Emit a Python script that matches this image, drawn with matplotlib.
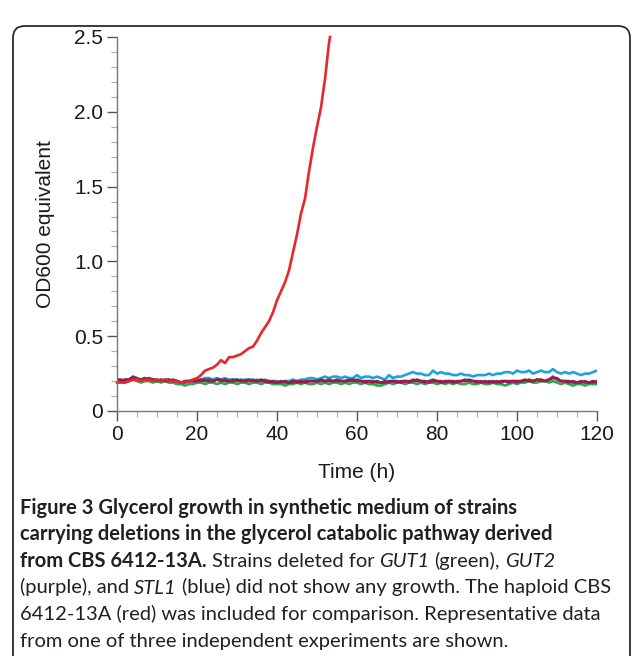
import matplotlib
matplotlib.use("Agg")
import matplotlib.pyplot as plt
from matplotlib.patches import FancyBboxPatch
from matplotlib.transforms import IdentityTransform
from matplotlib.ticker import MultipleLocator, FixedLocator, FixedFormatter

# Time axis (h), one reading per hour
time_h = list(range(121))

stl1_blue = [
    0.21, 0.20, 0.21, 0.21, 0.22, 0.21, 0.21, 0.22, 0.21, 0.21,
    0.20, 0.21, 0.20, 0.21, 0.20, 0.20, 0.19, 0.20, 0.20, 0.20,
    0.21, 0.21, 0.22, 0.22, 0.21, 0.22, 0.21, 0.22, 0.21, 0.21,
    0.21, 0.20, 0.21, 0.21, 0.20, 0.21, 0.20, 0.21, 0.20, 0.20,
    0.20, 0.19, 0.20, 0.20, 0.21, 0.20, 0.21, 0.21, 0.22, 0.22,
    0.21, 0.22, 0.23, 0.22, 0.23, 0.23, 0.22, 0.23, 0.22, 0.22,
    0.24, 0.22, 0.23, 0.23, 0.22, 0.23, 0.22, 0.21, 0.24, 0.22,
    0.23, 0.23, 0.24, 0.25, 0.26, 0.25, 0.25, 0.24, 0.24, 0.27,
    0.25, 0.26, 0.25, 0.25, 0.24, 0.24, 0.25, 0.24, 0.24, 0.23,
    0.24, 0.24, 0.24, 0.25, 0.24, 0.25, 0.25, 0.26, 0.26, 0.25,
    0.27, 0.26, 0.26, 0.27, 0.25, 0.26, 0.27, 0.26, 0.26, 0.28,
    0.26, 0.25, 0.26, 0.25, 0.26, 0.25, 0.24, 0.25, 0.25, 0.26,
    0.27,
]

gut1_green = [
    0.20, 0.20, 0.19, 0.20, 0.21, 0.20, 0.19, 0.20, 0.20, 0.19,
    0.20, 0.19, 0.20, 0.19, 0.19, 0.18, 0.18, 0.17, 0.18, 0.18,
    0.19, 0.19, 0.18, 0.19, 0.19, 0.18, 0.19, 0.18, 0.19, 0.19,
    0.18, 0.19, 0.19, 0.18, 0.19, 0.19, 0.18, 0.19, 0.19, 0.18,
    0.18, 0.18, 0.17, 0.18, 0.18, 0.19, 0.18, 0.19, 0.18, 0.18,
    0.19, 0.18, 0.19, 0.18, 0.19, 0.19, 0.18, 0.19, 0.18, 0.19,
    0.19, 0.18, 0.19, 0.18, 0.18, 0.17, 0.17, 0.18, 0.19, 0.18,
    0.19, 0.19, 0.18, 0.19, 0.19, 0.18, 0.19, 0.18, 0.19, 0.19,
    0.18, 0.19, 0.18, 0.19, 0.18, 0.19, 0.18, 0.18, 0.19, 0.18,
    0.18, 0.19, 0.18, 0.18, 0.19, 0.18, 0.18, 0.17, 0.18, 0.19,
    0.18, 0.19, 0.19, 0.20, 0.19, 0.19, 0.20, 0.20, 0.19, 0.20,
    0.19, 0.18, 0.19, 0.18, 0.17, 0.18, 0.18, 0.17, 0.18, 0.18,
    0.18,
]

gut2_purple = [
    0.21, 0.20, 0.21, 0.21, 0.23, 0.22, 0.21, 0.21, 0.22, 0.21,
    0.21, 0.20, 0.21, 0.21, 0.20, 0.20, 0.19, 0.20, 0.20, 0.20,
    0.20, 0.21, 0.20, 0.21, 0.20, 0.21, 0.21, 0.20, 0.20, 0.21,
    0.20, 0.21, 0.20, 0.20, 0.21, 0.20, 0.20, 0.20, 0.20, 0.19,
    0.19, 0.19, 0.20, 0.19, 0.19, 0.20, 0.19, 0.20, 0.20, 0.20,
    0.20, 0.20, 0.20, 0.21, 0.20, 0.20, 0.20, 0.20, 0.21, 0.20,
    0.21, 0.20, 0.20, 0.20, 0.20, 0.19, 0.19, 0.20, 0.19, 0.20,
    0.19, 0.20, 0.20, 0.19, 0.21, 0.20, 0.20, 0.19, 0.20, 0.21,
    0.20, 0.20, 0.19, 0.20, 0.20, 0.19, 0.20, 0.21, 0.20, 0.20,
    0.19, 0.20, 0.19, 0.20, 0.19, 0.20, 0.19, 0.20, 0.20, 0.20,
    0.19, 0.20, 0.20, 0.21, 0.20, 0.21, 0.20, 0.20, 0.21, 0.23,
    0.21, 0.20, 0.20, 0.19, 0.20, 0.19, 0.19, 0.20, 0.19, 0.19,
    0.20,
]

gut2_maroon = [
    0.21, 0.21, 0.20, 0.21, 0.22, 0.21, 0.21, 0.22, 0.21, 0.21,
    0.20, 0.21, 0.20, 0.20, 0.21, 0.20, 0.19, 0.19, 0.20, 0.20,
    0.20, 0.20, 0.21, 0.20, 0.20, 0.21, 0.20, 0.21, 0.20, 0.20,
    0.21, 0.20, 0.20, 0.21, 0.20, 0.20, 0.21, 0.20, 0.19, 0.20,
    0.19, 0.20, 0.19, 0.19, 0.20, 0.19, 0.20, 0.19, 0.20, 0.20,
    0.20, 0.21, 0.20, 0.20, 0.20, 0.21, 0.20, 0.20, 0.20, 0.21,
    0.20, 0.20, 0.19, 0.20, 0.19, 0.20, 0.19, 0.19, 0.20, 0.20,
    0.20, 0.19, 0.20, 0.20, 0.20, 0.21, 0.20, 0.20, 0.19, 0.20,
    0.20, 0.19, 0.20, 0.20, 0.19, 0.20, 0.20, 0.20, 0.21, 0.20,
    0.20, 0.19, 0.20, 0.19, 0.20, 0.19, 0.20, 0.20, 0.19, 0.20,
    0.20, 0.20, 0.21, 0.20, 0.20, 0.21, 0.21, 0.20, 0.21, 0.22,
    0.22, 0.20, 0.20, 0.20, 0.19, 0.19, 0.20, 0.19, 0.19, 0.20,
    0.19,
]

# CBS 6412-13A (red), only measured until it left the range
red_time = [
    0, 1, 2, 3, 4, 5, 6, 7, 8, 9,
    10, 11, 12, 13, 14, 15, 16, 17, 18, 19,
    20, 21, 22, 23, 24, 25, 26, 27, 28, 29,
    30, 31, 32, 33, 34, 35, 36, 37, 38, 39,
    40, 41, 42, 43, 44, 45, 46, 47, 48, 49,
    50, 51, 52, 53, 53.25,
]
cbs_red = [
    0.19, 0.19, 0.19, 0.20, 0.21, 0.21, 0.20, 0.21, 0.21, 0.20,
    0.21, 0.20, 0.21, 0.20, 0.20, 0.20, 0.19, 0.19, 0.20, 0.21,
    0.22, 0.24, 0.27, 0.28, 0.29, 0.31, 0.34, 0.32, 0.36, 0.36,
    0.37, 0.38, 0.40, 0.42, 0.43, 0.47, 0.52, 0.56, 0.60, 0.66,
    0.74, 0.80, 0.86, 0.94, 1.06, 1.18, 1.32, 1.42, 1.60, 1.76,
    1.90, 2.03, 2.22, 2.46, 2.50,
]

x_ticks = [0, 20, 40, 60, 80, 100, 120]
y_ticks = [0, 0.5, 1.0, 1.5, 2.0, 2.5]
y_tick_labels = ["0", "0.5", "1.0", "1.5", "2.0", "2.5"]

W, H = 633, 656
fig = plt.figure(figsize=(W / 100, H / 100), dpi=100)

# rounded frame around the whole figure panel
frame = FancyBboxPatch((13, -40), 617, H - 13 + 40 - 13,
                       boxstyle="round,pad=0,rounding_size=12",
                       transform=IdentityTransform(),
                       facecolor="none", edgecolor="#2b2b2b", lw=1.3,
                       zorder=-5)
fig.add_artist(frame)

ax = fig.add_axes([117 / W, 1 - 411 / H, 480 / W, 374 / H])
ax.set_facecolor("none")

lw = 1.9
ax.plot(time_h, stl1_blue, color="#1ea3dc", lw=lw)
ax.plot(time_h, gut1_green, color="#2fa84f", lw=lw)
ax.plot(time_h, gut2_purple, color="#7b2d8e", lw=lw)
ax.plot(time_h, gut2_maroon, color="#9a1e3c", lw=lw)
ax.plot(red_time, cbs_red, color="#e8262b", lw=lw, clip_on=False)

ax.set_xlim(0, 120)
ax.set_ylim(0, 2.5)

for side in ["top", "right"]:
    ax.spines[side].set_visible(False)
for side in ["left", "bottom"]:
    ax.spines[side].set_color("#7a7a7a")
    ax.spines[side].set_linewidth(1.0)

tick_font = "Liberation Sans"
ax.xaxis.set_major_locator(FixedLocator(x_ticks))
ax.xaxis.set_minor_locator(MultipleLocator(5))
ax.yaxis.set_major_locator(FixedLocator(y_ticks))
ax.yaxis.set_major_formatter(FixedFormatter(y_tick_labels))
ax.yaxis.set_minor_locator(MultipleLocator(0.1))
ax.tick_params(which="major", length=7, width=1.0, color="#555555",
               labelsize=15, labelcolor="#1a1a1a", pad=3)
ax.tick_params(which="minor", length=4.5, width=0.9, color="#b0b0b0")
for lab in ax.get_xticklabels() + ax.get_yticklabels():
    lab.set_fontfamily(tick_font)

ax.set_xlabel("Time (h)", fontsize=15, fontfamily=tick_font,
              color="#1a1a1a", labelpad=14)
ax.set_ylabel("OD600 equivalent", fontsize=15, fontfamily=tick_font,
              color="#1a1a1a", labelpad=14)

# caption, drawn run by run so bold / italic can mix on a line
cap_font = "Lato"
cap_color = "#231f20"
caption = [
    [("Figure 3 Glycerol growth in synthetic medium of strains", "bold", "normal")],
    [("carrying deletions in the glycerol catabolic pathway derived", "bold", "normal")],
    [("from CBS 6412-13A.", "bold", "normal"),
     ("Strains deleted for", "normal", "normal"),
     ("GUT1", "normal", "italic"),
     ("(green),", "normal", "normal"),
     ("GUT2", "normal", "italic")],
    [("(purple), and", "normal", "normal"),
     ("STL1", "normal", "italic"),
     ("(blue) did not show any growth. The haploid CBS", "normal", "normal")],
    [("6412-13A (red) was included for comparison. Representative data", "normal", "normal")],
    [("from one of three independent experiments are shown.", "normal", "normal")],
]
baselines = [514, 540.5, 567, 593.5, 620, 646.5]
renderer = fig.canvas.get_renderer()


def text_width(s, weight, style, size):
    t = fig.text(0, 0, s, fontsize=size, fontfamily=cap_font,
                 fontweight=weight, fontstyle=style)
    w = t.get_window_extent(renderer).width
    t.remove()
    return w


# fit size so the longest plain line spans the same width as in the original
probe = 14
w4 = text_width("(blue) did not show any growth. The haploid CBS", "normal", "normal", probe)
w4 += text_width("(purple), and", "normal", "normal", probe)
w4 += text_width("STL1", "normal", "italic", probe)
sp = text_width("x x", "normal", "normal", probe) - text_width("xx", "normal", "normal", probe)
w4 += 2 * sp
cap_size = probe * 596 / w4

for runs, base in zip(caption, baselines):
    x = 20
    for s, weight, style in runs:
        fig.text(x / W, 1 - base / H, s, fontsize=cap_size, fontfamily=cap_font,
                 fontweight=weight, fontstyle=style, color=cap_color,
                 va="baseline", ha="left")
        x += text_width(s, weight, style, cap_size)
        x += (text_width("x x", weight, "normal", cap_size)
              - text_width("xx", weight, "normal", cap_size))

fig.savefig("out.png", dpi=100)
